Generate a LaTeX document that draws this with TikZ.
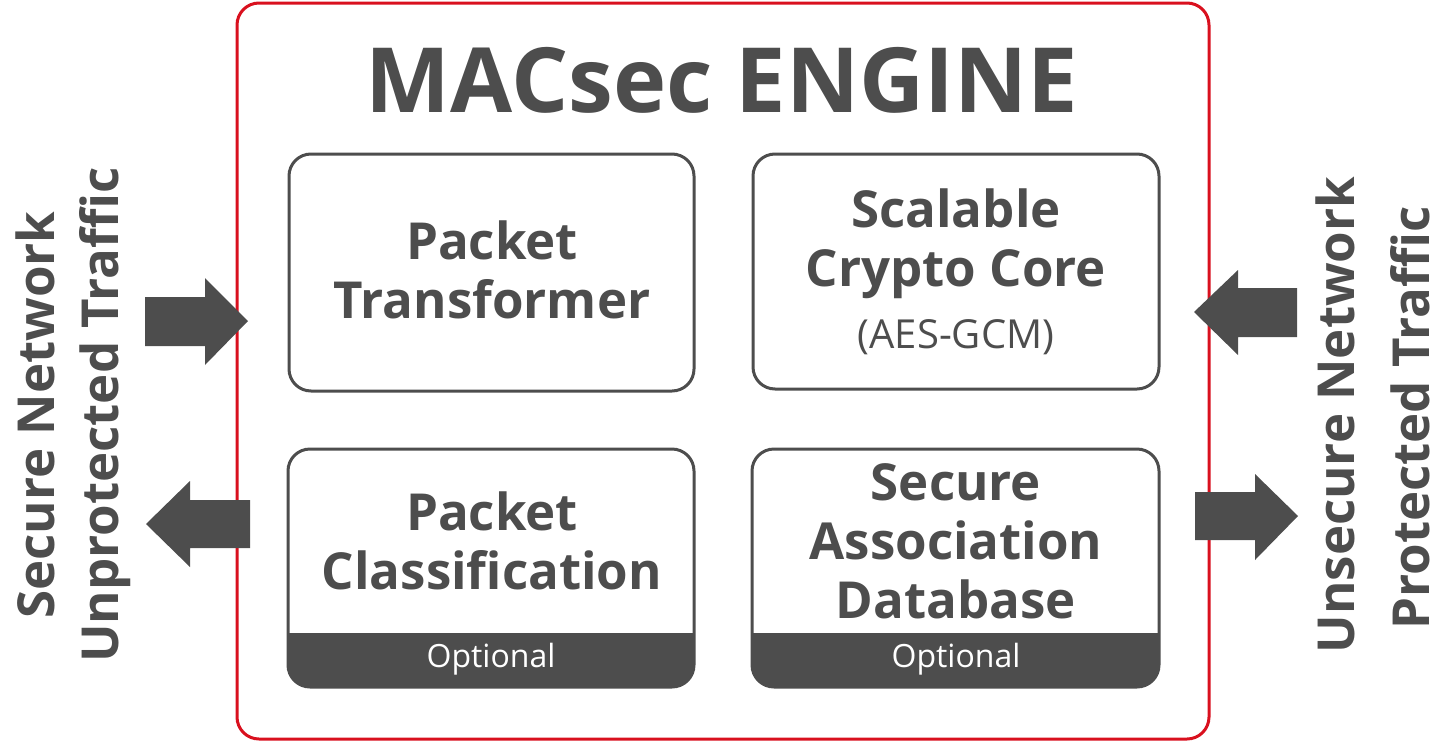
\documentclass[tikz,border=0pt]{standalone}
\usepackage{fontspec}
\setmainfont{Open Sans}
\usetikzlibrary{positioning}
\definecolor{ink}{HTML}{4D4D4D}
\definecolor{frame}{HTML}{D9101E}
\newcommand{\fs}[2]{\fontsize{#1}{#2}\selectfont}
\tikzset{
  x=1pt,y=-1pt,
  block/.style={draw=ink,line width=3pt,rounded corners=22pt,fill=white},
  btext/.style={text=ink,font=\bfseries\fs{51}{59},align=center,inner sep=0pt},
  side/.style={text=ink,font=\bfseries\fs{51}{59},rotate=90,inner sep=0pt,anchor=center},
  opt/.style={text=white,font=\fs{32}{36},inner sep=0pt},
  bigarrow/.style={fill=ink,draw=none}
}
\begin{document}
\begin{tikzpicture}
\useasboundingbox (0,0) rectangle (1445,742);
% frame
\draw[frame,line width=3pt,rounded corners=22pt] (237,3) rectangle (1209,739);
\node[text=ink,font=\bfseries\fs{90}{100},inner sep=0pt] (title) at (722,80) {MACsec ENGINE};
% blocks
\draw[block] (289,154) rectangle (694,391);
\draw[block] (753,154) rectangle (1159,389);
\begin{scope}
\clip[rounded corners=22pt] (288,449) rectangle (694,687);
\fill[ink] (288,633) rectangle (694,687);
\end{scope}
\draw[block,fill=none] (288,449) rectangle (694,687);
\begin{scope}
\clip[rounded corners=22pt] (752,449) rectangle (1159,687);
\fill[ink] (752,633) rectangle (1159,687);
\end{scope}
\draw[block,fill=none] (752,449) rectangle (1159,687);
% texts
\node[btext] (pt) at (492,270) {Packet\\Transformer};
\node[btext] (scc) at (956,244) {Scalable\\Crypto Core};
\node[text=ink,font=\fs{40}{44},inner sep=0pt] (aes) at (956,337) {(AES-GCM)};
\node[btext] (pc) at (492,541) {Packet\\Classification};
\node[btext] (sad) at (956,541) {Secure\\Association\\Database};
\node[opt] (o1) at (491,659) {Optional};
\node[opt] (o2) at (956,659) {Optional};
% side texts
\node[side] (l1) at (35,415) {Secure Network};
\node[side] (l2) at (105,415) {Unprotected Traffic};
\node[side] (r1) at (1335,415) {Unsecure Network};
\node[side] (r2) at (1410,418) {Protected Traffic};
% arrows
\fill[bigarrow] (145,297) -- (205,297) -- (205,278) -- (248,321) -- (205,365) -- (205,346) -- (145,346) -- cycle;
\fill[bigarrow] (250,500) -- (190,500) -- (190,481) -- (146,524) -- (190,567) -- (190,548) -- (250,548) -- cycle;
\fill[bigarrow] (1297,288) -- (1238,288) -- (1238,270) -- (1194,312) -- (1238,355) -- (1238,337) -- (1297,337) -- cycle;
\fill[bigarrow] (1195,492) -- (1255,492) -- (1255,474) -- (1298,516) -- (1255,560) -- (1255,540) -- (1195,540) -- cycle;
\end{tikzpicture}
\end{document}
